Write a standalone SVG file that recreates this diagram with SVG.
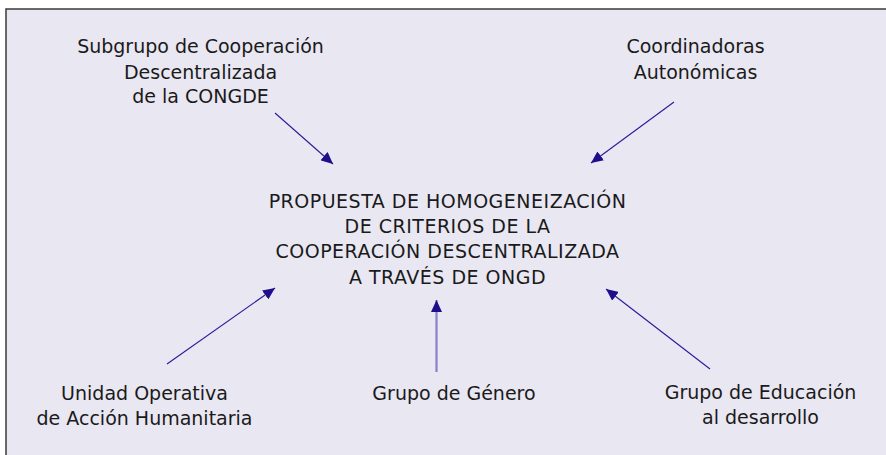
<svg xmlns="http://www.w3.org/2000/svg" width="886" height="455" viewBox="0 0 886 455">
<style>
text{font-family:"DejaVu Sans","Open Sans",sans-serif;font-size:19px;fill:#1a1a1a;text-anchor:middle}
.cap{letter-spacing:0.5px}
.ln{stroke:#2a1a9a;stroke-width:1.1;fill:none}
.lt{stroke:#8a80c8;stroke-width:2.2;fill:none}
</style>
<defs>
<marker id="ah" viewBox="0 0 12 11" refX="12" refY="5.5" markerWidth="12" markerHeight="11" markerUnits="userSpaceOnUse" orient="auto">
<path d="M0,0 L12,5.5 L0,11 z" fill="#1e0e8c"/>
</marker>
</defs>
<rect width="886" height="455" fill="#ffffff"/>
<rect x="6" y="9" width="900" height="470" fill="#e9e7f2" stroke="#3a3a3a" stroke-width="1.5"/>
<g id="connectors">
<line class="ln" x1="275" y1="113" x2="333" y2="164" marker-end="url(#ah)"/>
<line class="ln" x1="674" y1="102" x2="591" y2="163" marker-end="url(#ah)"/>
<line class="ln" x1="710" y1="369" x2="606" y2="289" marker-end="url(#ah)"/>
<line class="ln" x1="167" y1="364" x2="275" y2="288" marker-end="url(#ah)"/>
<line class="lt" x1="436.5" y1="372" x2="436.5" y2="300" marker-end="url(#ah)"/>
</g>
<g id="subgrupo">
<text x="200.5" y="53">Subgrupo de Cooperación</text>
<text x="200.5" y="79">Descentralizada</text>
<text x="200.5" y="103">de la CONGDE</text>
</g>
<g id="coordinadoras">
<text x="695.5" y="53">Coordinadoras</text>
<text x="695.5" y="79">Autonómicas</text>
</g>
<g id="propuesta">
<text class="cap" x="447.5" y="208">PROPUESTA DE HOMOGENEIZACIÓN</text>
<text class="cap" x="447.5" y="233">DE CRITERIOS DE LA</text>
<text class="cap" x="447.5" y="258">COOPERACIÓN DESCENTRALIZADA</text>
<text class="cap" x="447.5" y="284">A TRAVÉS DE ONGD</text>
</g>
<g id="unidad">
<text x="144.5" y="400">Unidad Operativa</text>
<text x="144.5" y="425">de Acción Humanitaria</text>
</g>
<g id="genero">
<text x="454" y="400">Grupo de Género</text>
</g>
<g id="educacion">
<text x="760.5" y="399">Grupo de Educación</text>
<text x="760.5" y="424">al desarrollo</text>
</g>
</svg>
